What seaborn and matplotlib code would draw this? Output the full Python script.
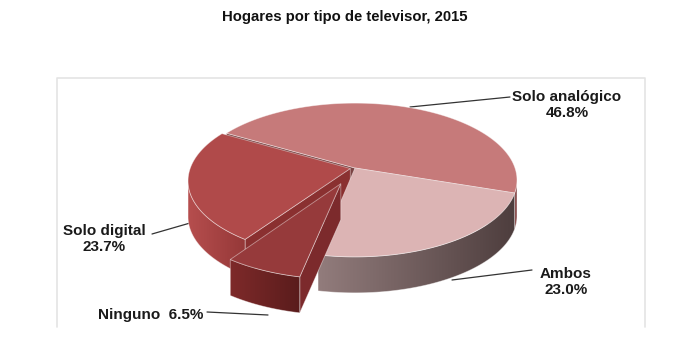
import numpy as np
import matplotlib
matplotlib.use("Agg")
import matplotlib.pyplot as plt
from matplotlib.patches import Polygon
from matplotlib.colors import to_rgb
import seaborn as sns

# datos
labels = ['Solo analógico', 'Ambos', 'Ninguno', 'Solo digital']
values = [46.8, 23.0, 6.5, 23.7]
label_text = ['Solo analógico\n46.8%', 'Ambos\n23.0%', 'Ninguno  6.5%', 'Solo digital\n23.7%']

# estilo
explode = [0.0, 0.0, 0.22, 0.03]
top_colors = ['#C67A7A', '#DCB4B4', '#963A3B', '#B04A4A']
side_colors = [('#8A4C4C', '#7A4040'), ('#927C7C', '#4E3E3E'),
               ('#7E2A2A', '#5A1C1C'), ('#B64E4E', '#953838')]
wall_colors = ['#7A4444', '#6E5656', '#7C2A2C', '#8A3030']

sns.set_style("white")
plt.rcParams['font.family'] = ['Liberation Sans', 'DejaVu Sans']

# geometria de la proyeccion (pixeles)
CX, CY, A, B, P, H = 355, 168, 160, 75, 0.156, 36
START = 150.0
FRONT = (-180 + np.degrees(np.arcsin(P)), -np.degrees(np.arcsin(P)))


def proj(x, z, drop=0.0):
    s = 1 + P * z
    return CX + A * x / s, CY - B * z / s + drop


def rim(t, ox, oz, r=1.0, drop=0.0):
    tr = np.radians(t)
    return proj(ox + r * np.cos(tr), oz + r * np.sin(tr), drop)


fig = plt.figure(figsize=(7, 3.53), dpi=100)
ax = fig.add_axes([0, 0, 1, 1])
ax.axis('off')

# marco del area del grafico
ax.plot([57, 57, 645, 645], [327, 78, 78, 327], color='#E4E4E4', lw=1.2)

# angulos de cada porcion (sentido horario desde START)
angles = []
t = START
for v in values:
    span = v / sum(values) * 360
    angles.append((t - span, t))
    t -= span

edge_kw = dict(edgecolor=(1, 1, 1, 0.45), linewidth=0.6)
z = 2

order = [0, 3, 1, 2]
for i in order:
    ta, tb = angles[i]
    mid = np.radians((ta + tb) / 2)
    ox, oz = explode[i] * np.cos(mid), explode[i] * np.sin(mid)
    c_top = proj(ox, oz)
    c_bot = proj(ox, oz, H)

    # paredes radiales visibles
    for tt, vis in [(ta, np.cos(np.radians(ta)) > 0), (tb, np.cos(np.radians(tb)) < 0)]:
        if vis:
            pts = [c_top, rim(tt, ox, oz), rim(tt, ox, oz, drop=H), c_bot]
            ax.add_patch(Polygon(pts, closed=True, facecolor=wall_colors[i], zorder=z, **edge_kw))
            z += 1

    # pared exterior (parte frontal) con degradado
    lo, hi = max(ta, FRONT[0]), min(tb, FRONT[1])
    if lo < hi:
        ts = np.linspace(lo, hi, 80)
        outline = [rim(s, ox, oz) for s in ts] + [rim(s, ox, oz, drop=H) for s in ts[::-1]]
        xs = [p[0] for p in outline]
        ys = [p[1] for p in outline]
        grad = np.array([[to_rgb(c) for c in sns.blend_palette(list(side_colors[i]), 200)]])
        im = ax.imshow(grad, extent=(min(xs), max(xs), max(ys), min(ys)), aspect='auto',
                       interpolation='bilinear', zorder=z)
        clip = Polygon(outline, closed=True, transform=ax.transData, facecolor='none')
        im.set_clip_path(clip)
        z += 1
        ax.add_patch(Polygon(outline, closed=True, fill=False, zorder=z, **edge_kw))
        z += 1

    # cara superior
    ts = np.linspace(ta, tb, 120)
    top = [c_top] + [rim(s, ox, oz) for s in ts]
    ax.add_patch(Polygon(top, closed=True, facecolor=top_colors[i], zorder=z, **edge_kw))
    z += 1

# etiquetas y lineas guia
txt_kw = dict(fontsize=11, fontweight='bold', color='#1a1a1a', linespacing=1.2, zorder=z)
ax.text(567, 105, label_text[0], ha='center', va='center', **txt_kw)
ax.plot([410, 510], [107, 97], color='#333333', lw=0.9)
ax.text(566, 282, label_text[1], ha='center', va='center', **txt_kw)
ax.plot([452, 532], [280, 270], color='#333333', lw=0.9)
ax.text(151, 315, label_text[2], ha='center', va='center', **txt_kw)
ax.plot([207, 268], [312, 315], color='#333333', lw=0.9)
ax.text(104, 239, label_text[3], ha='center', va='center', **txt_kw)
ax.plot([152, 197], [234, 221], color='#333333', lw=0.9)

ax.text(345, 17, 'Hogares por tipo de televisor, 2015', ha='center', va='center',
        fontsize=10.7, fontweight='bold', color='#111111')

ax.set_xlim(0, 700)
ax.set_ylim(353, 0)
fig.savefig('out.png', dpi=100)
